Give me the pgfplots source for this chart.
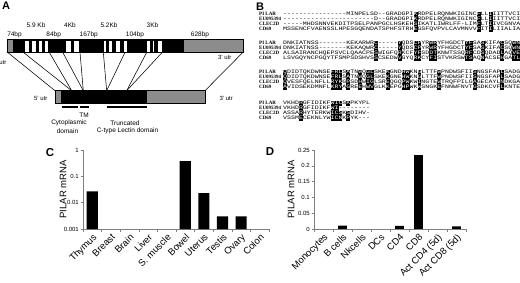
\documentclass[border=0pt]{standalone}
\usepackage{fontspec}
\setmainfont{Liberation Sans}
\setmonofont{Liberation Mono}
\newfontfamily\namefont{Liberation Serif}
\usepackage{graphicx}
\usepackage{pgfplots}
\pgfplotsset{compat=1.18}
\definecolor{fillgrey}{gray}{0.55}
\newcommand\h[1]{\makebox[0pt][l]{\rule[-1.2pt]{3.12pt}{5.1pt}}\textcolor{white}{#1}}
\newcommand\sq[2]{\node[anchor=base west,inner sep=0pt] at (283,#1+1.7) {\fontsize{5.2}{5}\ttfamily\scalebox{1.266}[1]{#2}};}
\newcommand\nm[2]{\node[anchor=base west,inner sep=0pt] at (259,#1+1.7) {\fontsize{5}{5}\namefont\bfseries #2};}
\begin{document}
\begin{tikzpicture}
\path[use as bounding box] (0pt,0pt) rectangle (520pt,-283pt);
\begin{scope}[x=1pt,y=-1pt,font=\fontsize{6.5}{7}\selectfont]
% panel labels
\node[font=\fontsize{11}{11}\selectfont\bfseries] at (6,6) {A};
\node[font=\fontsize{11}{11}\selectfont\bfseries] at (260,7) {B};
\node[font=\fontsize{11.5}{11}\selectfont\bfseries] at (50,152.5) {C};
\node[font=\fontsize{11.5}{11}\selectfont\bfseries] at (270,152) {D};
% genomic labels
\foreach \x/\t in {36/5.9 Kb, 70/4Kb, 109/5.2Kb, 152.5/3Kb} \node at (\x,25) {\t};
\foreach \x/\t in {14.5/74bp, 53.7/84bp, 88.7/167bp, 135/104bp, 200/628bp} \node at (\x,34.5) {\t};
% genomic bar
\fill[black] (7.5,39.5) rectangle (184.3,52.3);
\fill[fillgrey] (184.3,39.5) rectangle (243,52.3);
\fill[fillgrey] (7.5,39.5) rectangle (13.3,52.3);
\foreach \a/\b in {24.3/29, 30.7/35.7, 37.7/41.7, 44/48.3, 65.3/70.7, 73.3/79, 102.7/106, 108.3/112.3, 115/120, 123.3/127, 146/150, 151.7/154.3, 157/162.3}
  \draw[fill=white, line width=0.4pt] (\a,40) rectangle (\b,51.8);
\draw[line width=0.6pt] (7.5,39.5) rectangle (243,52.3);
% connecting lines
\begin{scope}[line width=0.55pt]
\draw (7.5,52.3) -- (55,90.7);
\draw (23.3,52.3) -- (71.7,90.7);
\draw (49.3,52.3) -- (71.7,90.7);
\draw (62.7,52.3) -- (83.3,90.7);
\draw (80,52.3) -- (83.3,90.7);
\draw (103.3,52.3) -- (106.7,90.7);
\draw (125,52.3) -- (106.7,90.7);
\draw (146.7,52.3) -- (126.7,90.7);
\draw (162.3,52.3) -- (126.7,90.7);
\draw (243,52.3) -- (205,90.7);
\end{scope}
% cDNA bar
\fill[black] (55,90.7) rectangle (146.7,103.3);
\fill[fillgrey] (55,90.7) rectangle (60.7,103.3);
\fill[fillgrey] (146.7,90.7) rectangle (205,103.3);
\draw[line width=0.6pt] (55,90.7) rectangle (205,103.3);
% domains
\draw[line width=1.8pt] (61.7,107) -- (78.3,107);
\draw[line width=1.8pt] (80,107) -- (89.3,107);
\draw[line width=1.8pt] (107.3,107) -- (146.7,107);
\node at (84,115) {TM};
\node at (69,123.3) {Cytoplasmic};
\node at (67.5,130.7) {domain};
\node at (125,123.3) {Truncated};
\node at (127.5,130.7) {C-type Lectin domain};
% utr labels
\node[anchor=east, font=\fontsize{6}{6}\selectfont] at (10,62) {5' utr};
\node[anchor=east, font=\fontsize{6}{6}\selectfont] at (235,57) {3' utr};
\node[anchor=east, font=\fontsize{6}{6}\selectfont] at (51,98) {5' utr};
\node[anchor=west, font=\fontsize{6}{6}\selectfont] at (216,98) {3' utr};
% alignment
\nm{14}{PI LAR}\nm{19}{EU095394}\nm{24}{CLEC2D}\nm{29}{CD69}
\nm{43}{PI LAR}\nm{48}{EU095394}\nm{53}{CLEC2D}\nm{58}{CD69}
\nm{72}{PI LAR}\nm{77}{EU095394}\nm{82}{CLEC2D}\nm{87}{CD69}
\nm{103}{PI LAR}\nm{108}{EU095394}\nm{113}{CLEC2D}\nm{118}{CD69}
\sq{14}{----------------MINPELSD--GRADGPI\h{K}RDPELRQNWKIGINC\h{F}LL\h{I}IITTVCI}
\sq{19}{-----------------------D--GRADGPI\h{K}RDPELRQNWKIGINC\h{F}LL\h{I}IITTVCI}
\sq{24}{-----MHDSNNVEKDITPSELPANPGCLHSKEH\h{S}IKATLIWRLFF-LIM\h{F}LT\h{I}IVCGNVA}
\sq{29}{MSSENCFVAENSSLHPESGQENDATSPHFSTRH\h{E}GSFQVPVLCAVMNVV\h{F}IT\h{I}LIIALIA}
\sq{43}{DNKIATNSS-------KEKARWR\h{C}-----\h{Y}QDS\h{C}\h{P}YR\h{W}\h{R}YFHGDCT\h{Y}\h{F}SA\h{S}KIFA\h{C}SQ\h{W}\h{N}}
\sq{48}{DNKIATNSS-------KEKAQWR\h{C}-----\h{Y}QDS\h{C}\h{P}YR\h{W}\h{R}YFHGDCT\h{Y}\h{F}SA\h{S}KIFA\h{C}SQ\h{W}\h{N}}
\sq{53}{ALSAIRANCHQEPSVCLQAACPE\h{S}WIGFQ\h{R}KCF\h{Y}\h{F}SD\h{D}\h{T}KNWTSSQ\h{R}\h{F}CD\h{S}QDAD\h{L}AQ\h{V}\h{E}}
\sq{58}{LSVGQYNCPGQYTFSMPSDSHVS\h{S}CSEDW\h{V}GYQ\h{R}\h{K}CY\h{F}\h{I}STVKRSW\h{T}\h{S}AQ\h{N}ACSE\h{H}GA\h{T}\h{L}}
\sq{72}{\h{Q}DIDTQKDWNSE\h{F}\h{R}\h{L}S\h{A}TN\h{W}Q\h{G}\h{L}SKE\h{K}GND\h{H}\h{W}KN\h{G}LTTF\h{W}PNDWSFII\h{S}NGSFAP\h{L}SADG}
\sq{77}{\h{Q}DIDTQKDWNSE\h{F}\h{R}\h{L}S\h{A}TN\h{W}Q\h{G}\h{L}SKE\h{K}GNE\h{H}\h{W}KN\h{G}LTTF\h{W}PNDWSFII\h{S}NGSFAP\h{L}SADG}
\sq{82}{\h{Q}VESFQELNFLL\h{R}\h{Y}\h{K}G\h{P}SD\h{H}W\h{I}\h{G}LSR\h{E}QGQ\h{P}\h{W}KW\h{I}NGTE\h{W}TRQFPILG\h{A}GECAYL\h{N}DKGA}
\sq{87}{\h{A}VIDSEKDMNFL\h{K}\h{R}\h{Y}A\h{G}RE\h{E}H\h{W}\h{V}GLK\h{K}EPG\h{H}\h{P}WK\h{W}SNGK\h{E}FNNWFNVT\h{G}SDKCVF\h{L}KNTE}
\sq{103}{VKHD\h{R}GFIDIKF\h{W}\h{I}\h{C}S\h{K}PKYPL}
\sq{108}{VKHD\h{R}GFIDIKF\h{W}\h{I}--------}
\sq{113}{ASSA\h{R}HYTERKW\h{I}\h{C}\h{S}K\h{S}DIHV-}
\sq{118}{VSSM\h{E}CEKNLYW\h{I}\h{C}\h{N}K\h{P}YK---}
\end{scope}
% panel C
\begin{axis}[
  at={(83pt,-229pt)}, anchor=south west,
  scale only axis, width=186pt, height=79pt,
  ymode=log, ymin=0.001, ymax=1, log origin y=infty,
  xmin=-0.5, xmax=9.5,
  axis x line*=bottom, axis y line*=left,
  axis line style={gray, line width=0.5pt},
  tick style={gray, line width=0.5pt},
  tick align=outside, major tick length=2.5pt, minor tick length=3pt,
  ytick={0.001,0.01,0.1,1}, yticklabels={0.001,0.01,0.1,1},
  yminorticks=false,
  xtick={0,...,9},
  xticklabels={Thymus,Breast,Brain,Liver,S. muscle,Bowel,Uterus,Testis,Ovary,Colon},
  major x tick style={draw=none},
  minor xtick={-0.5,0.5,...,9.5},
  x tick label style={rotate=45, anchor=north east, inner sep=1pt, font=\fontsize{9.5}{10}\selectfont},
  y tick label style={font=\fontsize{6}{6}\selectfont, inner sep=1.5pt},
  ylabel={PILAR mRNA},
  ylabel style={at={(axis description cs:-0.1075,0.5)}, anchor=center, font=\fontsize{9.5}{10}\selectfont},
]
\addplot[ybar, bar width=0.6, fill=black, draw=none] coordinates {(0,0.027) (5,0.38) (6,0.023) (7,0.003) (8,0.003)};
\end{axis}
% panel D
\begin{axis}[
  at={(314pt,-229pt)}, anchor=south west,
  scale only axis, width=152pt, height=79pt,
  ymin=0, ymax=0.25,
  xmin=-0.5, xmax=7.5,
  axis x line*=bottom, axis y line*=left,
  axis line style={gray, line width=0.5pt},
  tick style={gray, line width=0.5pt},
  tick align=outside, major tick length=2.5pt, minor tick length=3pt,
  scaled y ticks=false,
  ytick={0,0.05,0.1,0.15,0.2,0.25}, yticklabels={0,0.05,0.1,0.15,0.2,0.25},
  xtick={0,...,7},
  xticklabels={Monocytes,B cells,Nkcells,DCs,CD4,CD8,Act CD4 (5d),Act CD8 (5d)},
  major x tick style={draw=none},
  minor xtick={-0.5,0.5,...,7.5},
  x tick label style={rotate=45, anchor=north east, inner sep=1pt, font=\fontsize{9.5}{10}\selectfont},
  y tick label style={font=\fontsize{6}{6}\selectfont, inner sep=1.5pt},
  ylabel={PILAR mRNA},
  ylabel style={at={(axis description cs:-0.151,0.5)}, anchor=center, font=\fontsize{9.5}{10}\selectfont},
]
\addplot[ybar, bar width=0.47, fill=black, draw=none] coordinates {(1,0.0105) (4,0.01) (5,0.234) (7,0.008)};
\end{axis}
\end{tikzpicture}
\end{document}
